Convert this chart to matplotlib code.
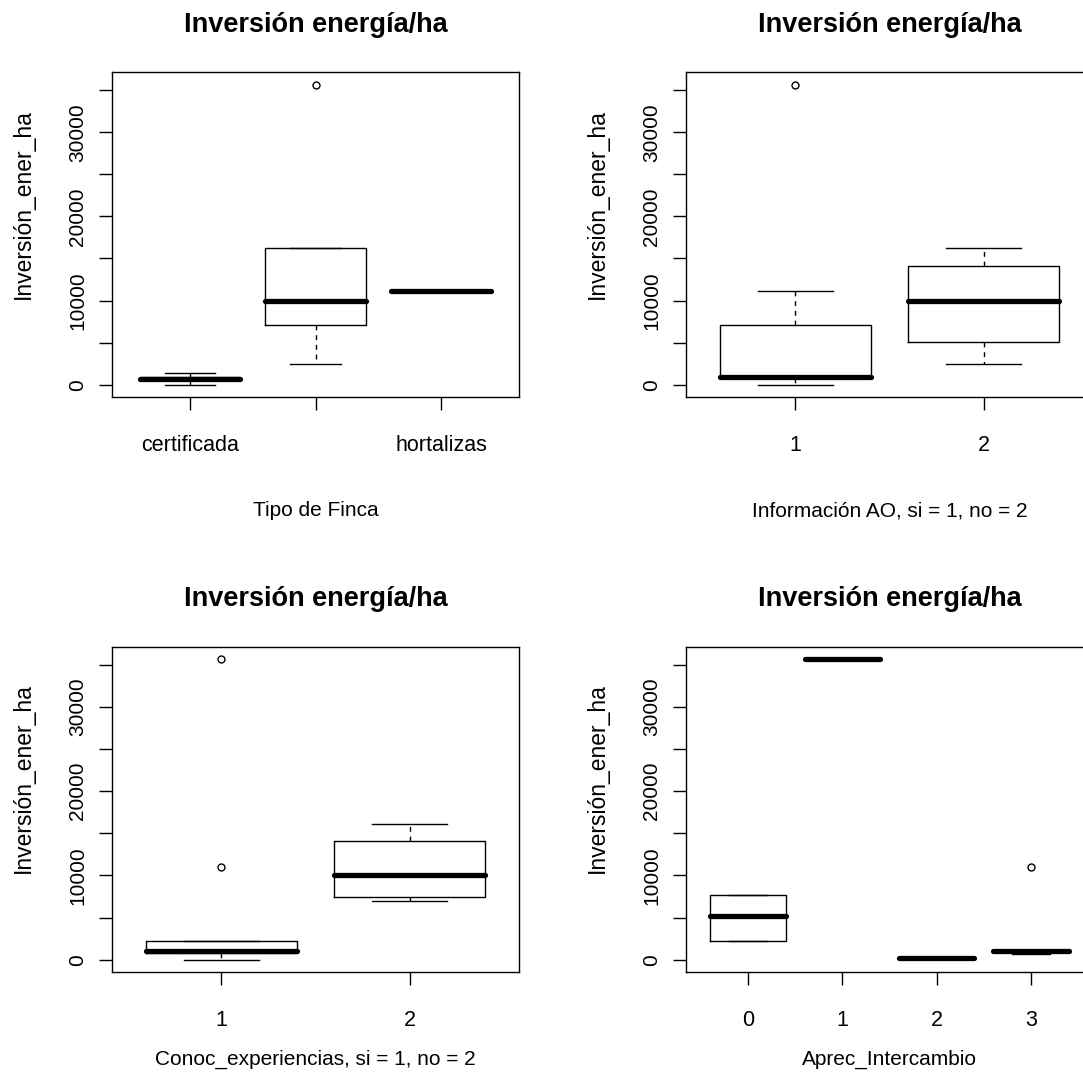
import matplotlib.pyplot as plt
import numpy as np

plt.rcParams['font.family'] = ['Liberation Sans', 'DejaVu Sans']

title_txt = 'Inversión energía/ha'
ylab = 'Inversión_ener_ha'

# stats per group: (whislo, q1, med, q3, whishi)
finca_cats = ['certificada', '', 'hortalizas']
finca_stats = [(0, 500, 700, 900, 1400), (2450, 7070, 9950, 16200, 16200), (11150, 11150, 11150, 11150, 11150)]
finca_fliers = [[], [35650], []]

info_cats = ['1', '2']
info_stats = [(0, 800, 950, 7070, 11180), (2450, 5060, 9950, 14140, 16200)]
info_fliers = [[35650], []]

conoc_cats = ['1', '2']
conoc_stats = [(0, 800, 990, 2260, 2260), (6930, 7410, 9990, 14070, 16130)]
conoc_fliers = [[11020, 35700], []]

aprec_cats = ['0', '1', '2', '3']
aprec_stats = [(2260, 2260, 5150, 7730, 7730), (35700, 35700, 35700, 35700, 35700),
               (200, 200, 200, 200, 200), (700, 950, 1070, 1150, 1150)]
aprec_fliers = [[], [], [], [11020]]

panels = [
    (finca_cats, finca_stats, finca_fliers, 'Tipo de Finca'),
    (info_cats, info_stats, info_fliers, 'Información AO, si = 1, no = 2'),
    (conoc_cats, conoc_stats, conoc_fliers, 'Conoc_experiencias, si = 1, no = 2'),
    (aprec_cats, aprec_stats, aprec_fliers, 'Aprec_Intercambio'),
]

W, H = 1083, 1085
fig = plt.figure(figsize=(W / 100, H / 100), dpi=100)

# plot regions in pixels: left, top, right, bottom
boxes = [(112, 72.3, 519, 396.7), (686, 72.3, 1093, 396.7),
         (112, 646.7, 519, 971.7), (686, 646.7, 1093, 971.7)]
xlab_y = [-0.323, -0.323, -0.241, -0.241]

# shared y range like R (data range + 4%)
lo, hi = 0, 35700
r = hi - lo

for i, (cats, stats, fliers, xlab) in enumerate(panels):
    l, t, rr, b = boxes[i]
    ax = fig.add_axes([l / W, 1 - b / H, (rr - l) / W, (b - t) / H])
    n = len(cats)
    bstats = []
    for (wl, q1, md, q3, wh), fl in zip(stats, fliers):
        bstats.append(dict(whislo=wl, q1=q1, med=md, q3=q3, whishi=wh, fliers=fl))
    ax.bxp(bstats, positions=np.arange(1, n + 1), widths=0.8,
           boxprops=dict(color='black', linewidth=1.0),
           medianprops=dict(color='black', linewidth=3.8, solid_capstyle='round'),
           whiskerprops=dict(color='black', linewidth=1.0, linestyle=(0, (3.5, 3.5))),
           capprops=dict(color='black', linewidth=1.0),
           flierprops=dict(marker='o', markersize=5, markerfacecolor='none',
                           markeredgecolor='black', markeredgewidth=1.0))
    ax.set_xlim(0.5 - 0.04 * n, n + 0.5 + 0.04 * n)
    ax.set_ylim(lo - 0.04 * r, hi + 0.04 * r)

    yt = np.arange(0, 35001, 5000)
    ax.set_yticks(yt)
    ax.set_yticklabels([str(v) if v % 10000 == 0 else '' for v in yt],
                       rotation=90, va='center', fontsize=15)
    ax.set_xticks(np.arange(1, n + 1))
    ax.set_xticklabels(cats, fontsize=15.5)
    ax.tick_params(axis='both', direction='out', length=9.4, width=1.0, color='black')
    ax.tick_params(axis='y', pad=8.5)
    ax.tick_params(axis='x', pad=18)
    for s in ax.spines.values():
        s.set_linewidth(1.0)

    ax.set_xlabel(xlab, fontsize=15)
    ax.xaxis.set_label_coords(0.5, xlab_y[i])
    ax.set_ylabel(ylab, fontsize=16.5)
    ax.yaxis.set_label_coords(-0.189, 0.595)
    ax.text(0.5, 1.125, title_txt, transform=ax.transAxes, ha='center', va='baseline',
            fontsize=19.5, fontweight='bold')

fig.savefig('out.png', dpi=100)
